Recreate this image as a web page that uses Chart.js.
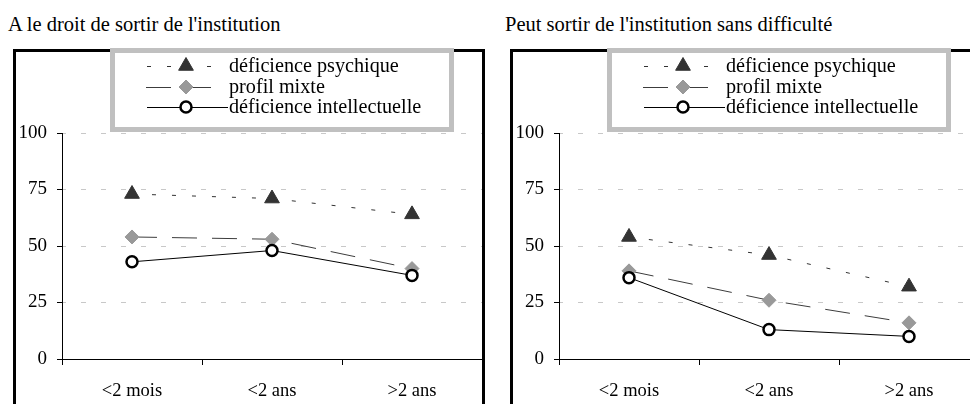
<!DOCTYPE html>
<html>
<head>
<meta charset="utf-8">
<script src="https://cdn.jsdelivr.net/npm/chart.js"></script>
<style>
    html, body { margin: 0; padding: 0; background: #fff; }
    body { position: relative; width: 970px; height: 404px; overflow: hidden; font-family: "Liberation Serif", "Times New Roman", serif; color: #000; }
    .title { position: absolute; top: 14px; font-size: 20.5px; line-height: 20px; white-space: nowrap; }
    .frame { position: absolute; top: 49px; width: 466px; height: 400px; border: 3px solid #000; }
    .frame canvas { position: absolute; left: 0; top: 0; }
    .legend { position: absolute; top: 48px; width: 334px; height: 74px; border: 5px solid #c0c0c0; background: #fff; z-index: 2; }
    .legend .row { position: absolute; left: 0; height: 21px; width: 334px; }
    .legend .row canvas { position: absolute; left: 28px; top: 0; }
    .legend .row span { position: absolute; left: 114px; top: 0; font-size: 20.2px; line-height: 20.5px; white-space: nowrap; }
</style>
</head>
<body>
<div class="title" style="left:8px">A le droit de sortir de l'institution</div>
<div class="title" style="left:505px">Peut sortir de l'institution sans difficulté</div>

<div class="frame" style="left:13px"><canvas id="chartDroit" width="466" height="352"></canvas></div>
<div class="frame" style="left:510px"><canvas id="chartSansDiff" width="466" height="352"></canvas></div>

<div class="legend" id="legendDroit" style="left:110px"></div>
<div class="legend" id="legendSansDiff" style="left:607px"></div>

<script>
// data
const categories = ['<2 mois', '<2 ans', '>2 ans'];
const seriesNames = ['déficience psychique', 'profil mixte', 'déficience intellectuelle'];
const yTicks = [0, 25, 50, 75, 100];

const droitPsychique = [73, 71, 64];
const droitMixte = [54, 53, 40];
const droitIntellectuelle = [43, 48, 37];

const sansDiffPsychique = [54, 46, 32];
const sansDiffMixte = [39, 26, 16];
const sansDiffIntellectuelle = [36, 13, 10];

const FONT = '"Liberation Serif", "Times New Roman", serif';

// line + marker look of each series (same order as seriesNames)
const seriesStyles = [
    { line: '#333333', dash: [4, 16], point: 'triangle', radius: 8.5, fill: '#333333', stroke: '#333333', pointWidth: 1, order: 2, sample: [4, 68] },
    { line: '#3c3c3c', dash: [25, 15], point: 'rectRot', radius: 7, fill: '#999999', stroke: '#999999', pointWidth: 1, order: 1, sample: [3, 69] },
    { line: '#000000', dash: [], point: 'circle', radius: 5.5, fill: '#ffffff', stroke: '#000000', pointWidth: 2.5, order: 0, sample: [4, 85] }
];

function makeDatasets(values) {
    return values.map((data, i) => {
        const s = seriesStyles[i];
        return {
            label: seriesNames[i],
            data: data,
            order: s.order,
            borderColor: s.line,
            borderWidth: 1,
            borderDash: s.dash,
            tension: 0,
            fill: false,
            pointStyle: s.point,
            pointRadius: s.radius,
            pointHoverRadius: s.radius,
            pointBackgroundColor: s.fill,
            pointBorderColor: s.stroke,
            pointBorderWidth: s.pointWidth
        };
    });
}

function createChart(id, values) {
    const ctx = document.getElementById(id);
    return new Chart(ctx, {
        type: 'line',
        data: {
            labels: categories,
            datasets: makeDatasets(values)
        },
        options: {
            responsive: false,
            animation: false,
            devicePixelRatio: 1,
            layout: { autoPadding: false, padding: { top: 81, left: 0, right: 0, bottom: 0 } },
            plugins: {
                legend: { display: false },
                tooltip: { enabled: false },
                title: { display: false }
            },
            scales: {
                x: {
                    offset: true,
                    grid: {
                        offset: true,
                        drawOnChartArea: false,
                        drawTicks: true,
                        tickLength: 6,
                        color: '#000',
                        tickColor: '#000',
                        tickBorderDash: []
                    },
                    border: { color: '#000', width: 1 },
                    ticks: {
                        color: '#000',
                        font: { family: FONT, size: 18.5 },
                        padding: 15,
                        maxRotation: 0,
                        autoSkip: false
                    },
                    afterFit: scale => {
                        scale.height = 45;
                        scale.paddingLeft = 0;
                        scale.paddingRight = 0;
                    }
                },
                y: {
                    min: yTicks[0],
                    max: yTicks[yTicks.length - 1],
                    afterBuildTicks: scale => {
                        scale.ticks = yTicks.map(v => ({ value: v }));
                    },
                    grid: {
                        color: '#c8c8c8',
                        lineWidth: 1,
                        tickLength: 5,
                        tickColor: '#000',
                        tickBorderDash: []
                    },
                    border: { color: '#000', width: 1, dash: [5, 15], dashOffset: 2 },
                    ticks: {
                        color: '#000',
                        font: { family: FONT, size: 19 },
                        padding: 10
                    },
                    afterFit: scale => { scale.width = 46; }
                }
            }
        }
    });
}

function drawMarker(ctx, s, x, y) {
    ctx.fillStyle = s.fill;
    ctx.strokeStyle = s.stroke;
    ctx.lineWidth = s.pointWidth;
    ctx.setLineDash([]);
    if (Chart.helpers && Chart.helpers.drawPoint) {
        Chart.helpers.drawPoint(ctx, { pointStyle: s.point, radius: s.radius, rotation: 0, borderWidth: s.pointWidth }, x, y);
        return;
    }
    const r = s.radius;
    ctx.beginPath();
    if (s.point === 'triangle') {
        ctx.moveTo(x, y - r);
        ctx.lineTo(x + r * Math.sin(2 * Math.PI / 3), y - r * Math.cos(2 * Math.PI / 3));
        ctx.lineTo(x + r * Math.sin(4 * Math.PI / 3), y - r * Math.cos(4 * Math.PI / 3));
        ctx.closePath();
    } else if (s.point === 'rectRot') {
        ctx.moveTo(x - r, y); ctx.lineTo(x, y - r); ctx.lineTo(x + r, y); ctx.lineTo(x, y + r);
        ctx.closePath();
    } else {
        ctx.arc(x, y, r, 0, Math.PI * 2);
    }
    ctx.fill();
    ctx.stroke();
}

function buildLegend(id) {
    const box = document.getElementById(id);
    seriesNames.forEach((name, i) => {
        const s = seriesStyles[i];
        const row = document.createElement('div');
        row.className = 'row';
        row.style.top = (2 + i * 20.5) + 'px';

        const c = document.createElement('canvas');
        c.width = 90;
        c.height = 22;
        row.appendChild(c);
        const g = c.getContext('2d');
        g.strokeStyle = s.line;
        g.lineWidth = 1;
        g.setLineDash(s.dash);
        g.beginPath();
        g.moveTo(s.sample[0], 11.5);
        g.lineTo(s.sample[1], 11.5);
        g.stroke();
        drawMarker(g, s, 43, 11);

        const label = document.createElement('span');
        label.textContent = name;
        row.appendChild(label);
        box.appendChild(row);
    });
}

createChart('chartDroit', [droitPsychique, droitMixte, droitIntellectuelle]);
createChart('chartSansDiff', [sansDiffPsychique, sansDiffMixte, sansDiffIntellectuelle]);
buildLegend('legendDroit');
buildLegend('legendSansDiff');
</script>
</body>
</html>
